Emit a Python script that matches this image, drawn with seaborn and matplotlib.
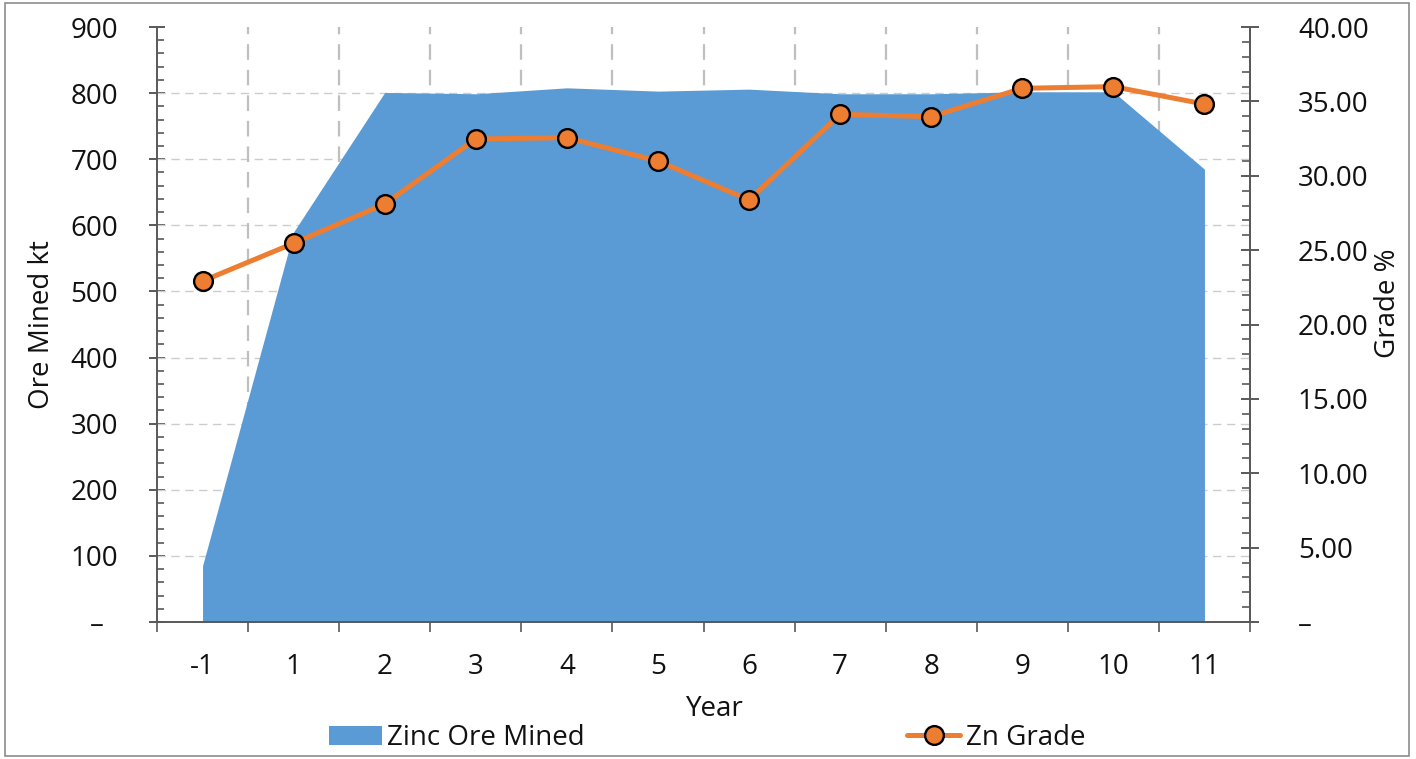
import matplotlib
matplotlib.use("Agg")
import matplotlib.pyplot as plt
from matplotlib.ticker import FixedLocator, FuncFormatter, MultipleLocator
from matplotlib.patches import Patch, Rectangle
from matplotlib.lines import Line2D
import seaborn as sns
import numpy as np

# Yearly production schedule
years = ["-1", "1", "2", "3", "4", "5", "6", "7", "8", "9", "10", "11"]
ore_mined_kt = [85, 590, 801, 799, 808, 803, 806, 799, 799, 802, 802, 685]
zn_grade_pct = [22.92, 25.46, 28.10, 32.47, 32.56, 30.99, 28.37, 34.13, 33.97, 35.88, 35.99, 34.82]

left_ticks = [0, 100, 200, 300, 400, 500, 600, 700, 800, 900]
right_ticks = [0, 5, 10, 15, 20, 25, 30, 35, 40]

sns.set_theme(style="white")
plt.rcParams["font.family"] = ["Open Sans", "DejaVu Sans"]

BLUE = "#5B9BD5"
ORANGE = "#ED7D31"
AXIS = "#595959"
TEXT = "#111111"
FS = 20

fig = plt.figure(figsize=(14.16, 7.59), dpi=100)
ax = fig.add_axes([157 / 1416, 1 - 622 / 759, (1250 - 157) / 1416, (622 - 27) / 759])
ax2 = ax.twinx()

pos = np.arange(len(years))

# Area series on the primary axis
ax.fill_between(pos, ore_mined_kt, 0, color=BLUE, lw=0, zorder=2)

# Grade series on the secondary axis
sns.lineplot(x=pos, y=zn_grade_pct, ax=ax2, color=ORANGE, lw=3.6,
             marker="o", markersize=13.5, markerfacecolor=ORANGE,
             markeredgecolor="black", markeredgewidth=1.7, zorder=3)

ax.set_xlim(-0.5, len(years) - 0.5)
ax.set_ylim(0, 900)
ax2.set_ylim(0, 40)

# Horizontal dashed gridlines at the primary major ticks
for v in left_ticks[1:-1]:
    ax.axhline(v, color="#cccccc", lw=1.0, ls=(0, (6, 4)), zorder=1)

# Category boundaries: major ticks + vertical dashed gridlines
bounds = np.arange(-0.5, len(years), 1.0)
ax.xaxis.set_major_locator(FixedLocator(bounds))
ax.xaxis.set_major_formatter(FuncFormatter(lambda v, p: ""))
ax.xaxis.set_minor_locator(FixedLocator(pos))
ax.set_xticklabels(years, minor=True)
for b in bounds[1:-1]:
    ax.axvline(b, color="#bfbfbf", lw=1.6, ls=(0, (7, 4.5)), zorder=1)

ax.tick_params(axis="x", which="major", direction="out", length=7.5, width=1.2,
               color=AXIS, bottom=True)
ax.tick_params(axis="x", which="minor", length=0, pad=22, labelsize=FS,
               labelcolor=TEXT, bottom=True)

# Primary y axis
ax.yaxis.set_major_locator(FixedLocator(left_ticks))
ax.yaxis.set_minor_locator(MultipleLocator(20))
ax.yaxis.set_major_formatter(FuncFormatter(lambda v, p: "–  " if v == 0 else f"{int(v)}"))
ax.tick_params(axis="y", which="major", direction="inout", length=12, width=1.4,
               color=AXIS, left=True, pad=22, labelsize=FS, labelcolor=TEXT)
ax.tick_params(axis="y", which="minor", direction="in", length=5, width=1.2,
               color=AXIS, left=True)

# Secondary y axis
ax2.yaxis.set_major_locator(FixedLocator(right_ticks))
ax2.yaxis.set_minor_locator(MultipleLocator(1))
ax2.yaxis.set_major_formatter(FuncFormatter(lambda v, p: "–" if v == 0 else f"{v:.2f}"))
ax2.tick_params(axis="y", which="major", direction="inout", length=13, width=1.4,
                color=AXIS, right=True, pad=28, labelsize=FS, labelcolor=TEXT)
ax2.tick_params(axis="y", which="minor", direction="in", length=6, width=1.2,
                color=AXIS, right=True)

for a in (ax, ax2):
    a.grid(False)
    a.spines["top"].set_visible(False)
    for s in ("left", "right", "bottom"):
        a.spines[s].set_color(AXIS)
        a.spines[s].set_linewidth(1.4)
ax2.spines["left"].set_visible(False)
ax2.spines["bottom"].set_visible(False)

ax.set_xlabel("Year", fontsize=FS, color=TEXT)
ax.xaxis.set_label_coords(0.51, -0.122)
ax.set_ylabel("Ore Mined kt", fontsize=FS, color=TEXT)
ax.yaxis.set_label_coords(-0.092, 0.5)
ax2.set_ylabel("Grade %", fontsize=FS, color=TEXT)
ax2.yaxis.set_label_coords(1.113, 0.535)

# Legend below the plot
handles = [
    Patch(facecolor=BLUE, edgecolor="none", label="Zinc Ore Mined"),
    Line2D([], [], color=ORANGE, lw=3.6, marker="o", markersize=13.5,
           markerfacecolor=ORANGE, markeredgecolor="black", markeredgewidth=1.7,
           label="Zn Grade"),
]
fig.legend(handles=handles, loc="center", bbox_to_anchor=(707 / 1416, 1 - 738 / 759),
           ncol=2, frameon=False, fontsize=FS, handlelength=1.9, handleheight=0.68,
           handletextpad=0.2, columnspacing=11.6, labelcolor=TEXT)

# Chart border
fig.patches.append(Rectangle((5 / 1416, 1 - 756 / 759), 1404 / 1416, 753 / 759,
                             transform=fig.transFigure, fill=False,
                             edgecolor="#8c8c8c", lw=1.2))

fig.savefig("out.png", dpi=100)
